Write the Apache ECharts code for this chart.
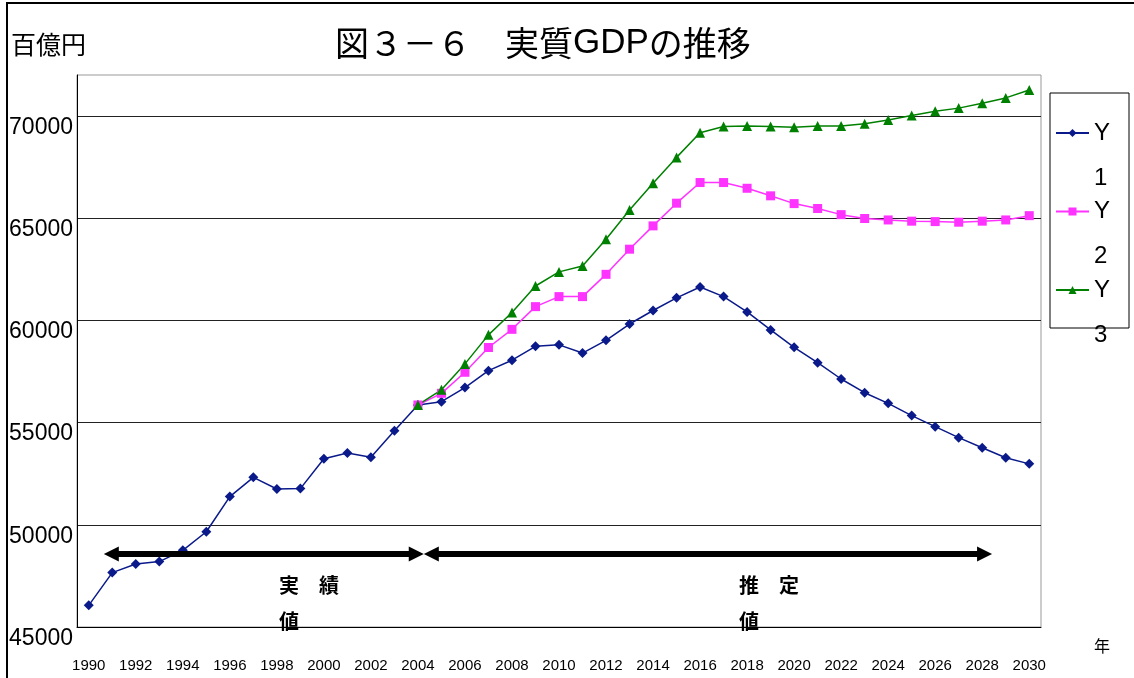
<!DOCTYPE html>
<html>
<head>
<meta charset="utf-8">
<script src="https://cdn.jsdelivr.net/npm/echarts@6/dist/echarts.min.js"></script>
<style>
html, body { margin: 0; padding: 0; background: #fff; }
#chart { width: 1134px; height: 678px; }
</style>
</head>
<body>
<div id="chart"></div>
<script>
// 年（カテゴリ）
const years = ['1990', '1991', '1992', '1993', '1994', '1995', '1996', '1997', '1998', '1999',
    '2000', '2001', '2002', '2003', '2004', '2005', '2006', '2007', '2008', '2009',
    '2010', '2011', '2012', '2013', '2014', '2015', '2016', '2017', '2018', '2019',
    '2020', '2021', '2022', '2023', '2024', '2025', '2026', '2027', '2028', '2029', '2030'];

// 実質GDP（百億円）
const y1 = [46060, 47660, 48080, 48200, 48750, 49660, 51380, 52320, 51750, 51770,
    53230, 53510, 53300, 54600, 55860, 56020, 56710, 57540, 58050, 58730,
    58800, 58400, 59020, 59820, 60480, 61100, 61630, 61160, 60410, 59530,
    58680, 57930, 57130, 56460, 55940, 55340, 54800, 54260, 53770, 53280, 52980];
const y2 = [null, null, null, null, null, null, null, null, null, null,
    null, null, null, null, 55860, 56430, 57460, 58670, 59560, 60670,
    61160, 61160, 62250, 63480, 64620, 65730, 66740, 66740, 66460, 66090,
    65710, 65470, 65170, 64980, 64910, 64850, 64830, 64800, 64850, 64910, 65120];
const y3 = [null, null, null, null, null, null, null, null, null, null,
    null, null, null, null, 55860, 56600, 57870, 59290, 60380, 61680,
    62370, 62660, 63970, 65400, 66710, 67970, 69180, 69480, 69510, 69480,
    69450, 69510, 69510, 69610, 69800, 70020, 70230, 70380, 70620, 70880, 71270];

// 実績値 / 推定値 の矢印と注記（年, 百億円）
const arrowSpans = [[1990.96, 2003.93], [2004.57, 2028.1]];
const arrowLevel = 48570;
const noteTexts = ['実　績\n値', '推　定\n値'];
const noteYears = [1998.09, 2017.66];
const noteLevel = 46170;

const jp = "'Noto Sans CJK JP', sans-serif";
const latin = "'Liberation Sans', Arial, sans-serif";

const chart = echarts.init(document.getElementById('chart'));

const option = {
    animation: false,
    backgroundColor: '#fff',
    title: {
        text: '図３－６　実質{g|GDP}の推移',
        left: 330,
        top: 21,
        textStyle: {
            fontFamily: jp, fontSize: 34, fontWeight: 'normal', color: '#000',
            rich: {
                g: { fontFamily: latin, fontSize: 35, color: '#000' }
            }
        }
    },
    graphic: [
        { type: 'rect', silent: true, shape: { x: 7, y: 3, width: 1140, height: 700 },
          style: { fill: 'none', stroke: '#000', lineWidth: 2 } },
        { type: 'rect', silent: true, shape: { x: 1050, y: 93, width: 79, height: 235 },
          style: { fill: 'none', stroke: '#000', lineWidth: 1 } },
        { type: 'text', silent: true, x: 11, y: 32,
          style: { text: '百億円', font: '25px ' + jp, fill: '#000' } }
    ],
    legend: {
        data: ['Y1', 'Y2', 'Y3'],
        orient: 'vertical',
        left: 1055,
        top: 65.5,
        padding: 0,
        itemGap: -56.5,
        itemWidth: 33,
        itemHeight: 10,
        selectedMode: false,
        formatter: function (name) {
            return '\n' + name.charAt(0) + '\n' + name.slice(1);
        },
        textStyle: { fontFamily: latin, fontSize: 24, lineHeight: 45, color: '#000' }
    },
    grid: {
        left: 77, top: 75, right: 93, bottom: 51,
        show: true, borderColor: '#999', borderWidth: 1
    },
    xAxis: [
        {
            type: 'category',
            data: years,
            boundaryGap: true,
            axisLine: { lineStyle: { color: '#000' } },
            axisTick: { inside: true, length: 5, interval: 0, lineStyle: { color: '#000' } },
            axisLabel: { interval: 1, margin: 31, fontFamily: latin, fontSize: 15, color: '#000' },
            name: '年',
            nameLocation: 'end',
            nameGap: 53,
            nameTextStyle: {
                fontFamily: jp, fontSize: 16, color: '#000',
                verticalAlign: 'top', padding: [11, 0, 0, 0]
            }
        },
        {
            type: 'value', min: 1989.5, max: 2030.5, show: false
        }
    ],
    yAxis: {
        type: 'value',
        min: 45000,
        max: 72000,
        interval: 5000,
        axisLine: { show: true, lineStyle: { color: '#000' } },
        axisTick: { show: false },
        axisLabel: {
            showMaxLabel: false, verticalAlign: 'top', margin: 4,
            fontFamily: latin, fontSize: 23, color: '#000',
            formatter: function (v) { return String(v); }
        },
        splitLine: { showMaxLine: false, lineStyle: { color: '#222', width: 1 } }
    },
    series: [
        {
            name: 'Y1', type: 'line', data: y1,
            symbol: 'diamond', symbolSize: 10,
            itemStyle: { color: '#0A1A8A' },
            lineStyle: { color: '#0A1A8A', width: 1.5 }
        },
        {
            name: 'Y2', type: 'line', data: y2,
            symbol: 'rect', symbolSize: 9,
            itemStyle: { color: '#FF33FF' },
            lineStyle: { color: '#FF33FF', width: 1.5 }
        },
        {
            name: 'Y3', type: 'line', data: y3,
            symbol: 'triangle', symbolSize: 10,
            itemStyle: { color: '#008000' },
            lineStyle: { color: '#008000', width: 1.5 }
        },
        {
            name: 'annot', type: 'line', xAxisIndex: 1, data: [], silent: true,
            markLine: {
                silent: true,
                symbol: ['triangle', 'triangle'],
                symbolSize: 15,
                lineStyle: { color: '#000', width: 6, type: 'solid' },
                label: { show: false },
                emphasis: { disabled: true },
                data: arrowSpans.map(function (s) {
                    return [{ coord: [s[0], arrowLevel] }, { coord: [s[1], arrowLevel] }];
                })
            },
            markPoint: {
                silent: true,
                symbol: 'circle',
                symbolSize: 0,
                label: {
                    show: true, position: 'right', distance: 0,
                    formatter: '{b}',
                    fontFamily: jp, fontSize: 20, fontWeight: 'bold',
                    lineHeight: 36, color: '#000'
                },
                data: noteTexts.map(function (t, i) {
                    return { name: t, coord: [noteYears[i], noteLevel] };
                })
            }
        }
    ]
};

chart.setOption(option);
</script>
</body>
</html>
